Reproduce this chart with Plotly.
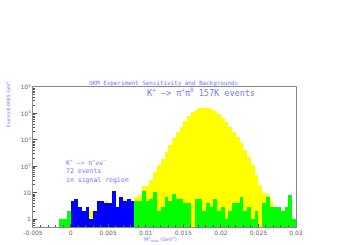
import plotly.graph_objects as go

# ---- data ----
bin_start = -0.005
bin_width = 0.0005
n_bins = 70

# K+ -> pi+ pi0 (yellow), per bin; None = not visible
kpi2 = [None]*7 + [None, None, None] + \
    [None, None, None, None, None, 2, None, None, None, 5, None, None, None, None, 6, None, None] + \
    [7, 8, 18, 18, 30, 61, 109, 194, 364, 650, 1150, 1940, 3160, 5000, 7750, 10900,
     13700, 15500, 16700, 16400, 14800, 11900, 9500, 6700, 4600, 3160, 2050, 1260,
     750, 420, 225, 109, 49, 20, 10, 9, 5] + [None]*6

# background outside signal region (green)
background = [0]*7 + [1, 1, 2] + [0]*17 + \
    [5, 5, 12, 5, 6, 11, 2, 3, 7, 5, 9, 6, 6, 4, 4, 0, 6, 6, 2, 4, 3, 6, 2,
     3, 1, 2, 4, 4, 7, 2, 3, 1, 2, 0, 4, 7, 3, 3, 3, 2, 3, 8, 1]

# K+ -> pi+ nu nubar in signal region (blue)
signal = [0]*10 + [5, 6, 3, 2, 3, 1, 2, 5, 5, 4, 4, 12, 3, 7, 5, 6, 5] + [0]*43

y_tickvals = [1, 10, 100, 1000, 10000, 100000]
y_ticktext = ["1", "10", "10<sup>2</sup>", "10<sup>3</sup>", "10<sup>4</sup>", "10<sup>5</sup>"]
x_tickvals = [-0.005, 0, 0.005, 0.01, 0.015, 0.02, 0.025, 0.03]
x_ticktext = ["-0.005", "0", "0.005", "0.01", "0.015", "0.02", "0.025", "0.03"]

centers = [bin_start + (i + 0.5) * bin_width for i in range(n_bins)]


def clean(vals):
    return [v if (v is not None and v > 0) else None for v in vals]


fig = go.Figure()
fig.add_bar(x=centers, y=clean(kpi2), width=bin_width, marker=dict(color="#ffff00", line=dict(width=0)))
fig.add_bar(x=centers, y=clean(background), width=bin_width, marker=dict(color="#00ff00", line=dict(width=0)))
fig.add_bar(x=centers, y=clean(signal), width=bin_width, marker=dict(color="#0000ff", line=dict(width=0)))

txt = "#7878ff"
FONT = "DejaVu Sans"
MONO = "DejaVu Sans Mono"

fig.update_layout(
    width=354, height=245,
    margin=dict(l=33, r=58, t=87, b=18, autoexpand=False),
    paper_bgcolor="white", plot_bgcolor="white",
    barmode="overlay", bargap=0, showlegend=False,
    font=dict(family=FONT, size=6, color="#666666"),
)
fig.update_xaxes(
    range=[-0.005, 0.03], tickvals=x_tickvals, ticktext=x_ticktext, automargin=False,
    ticks="inside", ticklen=3, tickcolor="#555555", tickfont=dict(size=6, color="#666666"),
    showline=True, linecolor="#888888", linewidth=1, mirror=True, showgrid=False, zeroline=False,
    minor=dict(ticks="inside", ticklen=2, dtick=0.001, tickcolor="#555555"),
)
fig.update_yaxes(
    type="log", range=[-0.29, 5.0], tickvals=y_tickvals, ticktext=y_ticktext, automargin=False,
    ticks="inside", ticklen=4, tickcolor="#555555", tickfont=dict(size=6, color="#666666"),
    showline=True, linecolor="#888888", linewidth=1, mirror=True, showgrid=False, zeroline=False,
    minor=dict(ticks="inside", ticklen=2, dtick="D1", tickcolor="#555555"),
)

def ann(text, x, y, size, xanchor="center", yanchor="middle", angle=0, family=FONT):
    fig.add_annotation(text=text, x=x, y=y, xref="paper", yref="paper", showarrow=False,
                       xanchor=xanchor, yanchor=yanchor, textangle=angle, align="left",
                       font=dict(family=family, size=size, color=txt))

W, H, L, T = 263.0, 140.0, 33.0, 87.0
px = lambda p: (p - L) / W
py = lambda p: (T + H - p) / H

ann("OKM Experiment Sensitivity and Backgrounds", px(163.5), py(83.5), 5.9, family=MONO)
ann("K<sup>+</sup> \u2014> \u03c0<sup>+</sup>\u03c0<sup>0</sup> 157K events", px(201), py(92), 8.5, family=MONO)
ann("K<sup>+</sup> \u2014> \u03c0<sup>+</sup>\u03bd\u03bd\u0305<br>72 events<br>in signal region",
    px(64), py(170.5), 6.5, xanchor="left", family=MONO)
ann("Events/0.0005 GeV<sup>2</sup>", px(8), py(105), 4.5, angle=-90)
ann("M<sup>2</sup><sub>miss</sub> (GeV<sup>2</sup>)", px(160.5), py(239), 5)

fig.write_html("out.html", config={"displayModeBar": False},
               post_script="document.body.style.margin='0px';")
